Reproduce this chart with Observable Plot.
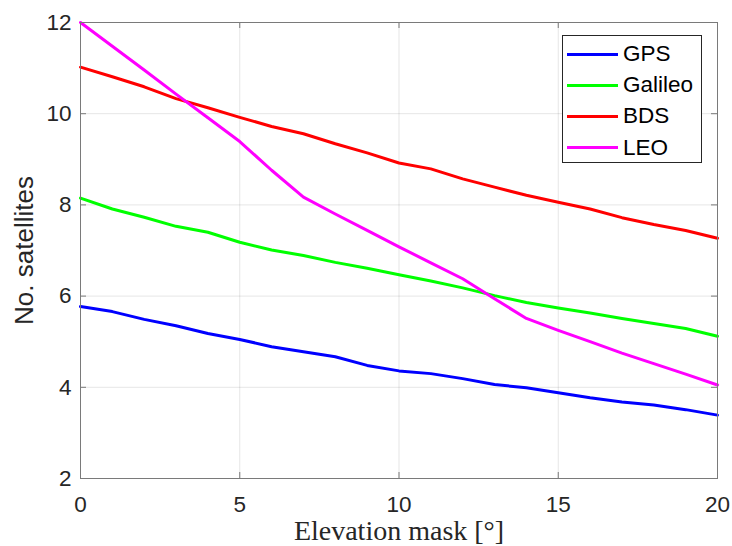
<!DOCTYPE html>
<html>
<head>
<meta charset="utf-8">
<script src="https://cdn.jsdelivr.net/npm/d3@7"></script>
<script src="https://cdn.jsdelivr.net/npm/@observablehq/plot@0.6"></script>
<style>
  html, body { margin: 0; padding: 0; background: #fff; }
  #wrap { position: relative; width: 732px; height: 546px; }
  #legend { position: absolute; left: 562px; top: 35px; width: 140px; height: 128px;
            border: 1px solid #262626; background: #fff; box-sizing: border-box; }
  .row { position: absolute; left: 4px; height: 30px; display: flex; align-items: center;
         font-family: "Liberation Sans", Arial, sans-serif; font-size: 22.5px; color: #000; }
  .sw { width: 51px; height: 3px; margin-right: 5px; }
</style>
</head>
<body>
<div id="wrap"><div id="legend"></div></div>
<script>
const elevation = [0,1,2,3,4,5,6,7,8,9,10,11,12,13,14,15,16,17,18,19,20];
const seriesNames = ["GPS", "Galileo", "BDS", "LEO"];
const seriesColors = ["#0000ff", "#00ff00", "#ff0000", "#ff00ff"];
const gps     = [5.77,5.66,5.49,5.35,5.18,5.05,4.89,4.78,4.67,4.48,4.36,4.30,4.19,4.06,3.99,3.88,3.77,3.68,3.61,3.51,3.39];
const galileo = [8.15,7.91,7.73,7.53,7.40,7.18,7.01,6.89,6.74,6.61,6.47,6.33,6.18,6.01,5.86,5.74,5.63,5.51,5.40,5.29,5.12];
const bds     = [11.02,10.81,10.59,10.33,10.13,9.92,9.72,9.56,9.34,9.14,8.92,8.79,8.57,8.39,8.21,8.06,7.91,7.72,7.57,7.44,7.27];
const leo     = [12.0,11.48,10.96,10.43,9.91,9.39,8.76,8.17,7.80,7.44,7.08,6.73,6.38,5.94,5.51,5.25,5.00,4.75,4.52,4.29,4.05];
const xTicks = [0,5,10,15,20];
const yTicks = [2,4,6,8,10,12];
const xLabel = "Elevation mask [°]";
const yLabel = "No. satellites";

const seriesValues = [gps, galileo, bds, leo];
const rows = [];
seriesNames.forEach((name, i) => {
  elevation.forEach((e, j) => rows.push({series: name, x: e, y: seriesValues[i][j]}));
});

const axisColor = "#7a7a7a";
const chart = Plot.plot({
  width: 732,
  height: 546,
  marginLeft: 80,
  marginRight: 15,
  marginTop: 22,
  marginBottom: 68,
  style: {fontFamily: "'Liberation Sans', Arial, sans-serif", background: "#fff"},
  x: {domain: [0, 20]},
  y: {domain: [2, 12]},
  color: {domain: seriesNames, range: seriesColors},
  marks: [
    Plot.gridX(xTicks, {stroke: "#000", strokeOpacity: 0.1, strokeWidth: 1}),
    Plot.gridY(yTicks, {stroke: "#000", strokeOpacity: 0.1, strokeWidth: 1}),
    Plot.axisX(xTicks, {tickSize: 0, tickPadding: 18, fontSize: 22.5, fill: "#262626", label: null}),
    Plot.axisY(yTicks, {tickSize: 0, tickPadding: 9, fontSize: 22.5, fill: "#262626", label: null}),
    Plot.tickX(xTicks, {x: d => d, insetTop: 450, stroke: axisColor}),
    Plot.tickX(xTicks, {x: d => d, insetBottom: 450, stroke: axisColor}),
    Plot.tickY(yTicks, {y: d => d, insetRight: 631, stroke: axisColor}),
    Plot.tickY(yTicks, {y: d => d, insetLeft: 631, stroke: axisColor}),
    Plot.line(rows, {x: "x", y: "y", z: "series", stroke: "series", strokeWidth: 3}),
    Plot.frame({stroke: axisColor, strokeWidth: 1}),
    Plot.text([yLabel], {frameAnchor: "left", rotate: -90, dx: -56, text: d => d,
      fontSize: 26, fill: "#262626", lineAnchor: "middle", textAnchor: "middle"}),
    Plot.text([xLabel], {frameAnchor: "bottom", dy: 53, text: d => d, textAnchor: "middle",
      fontSize: 28, fill: "#262626", lineAnchor: "middle", fontFamily: "'Liberation Serif', 'Times New Roman', serif"})
  ]
});
const wrap = document.getElementById("wrap");
wrap.insertBefore(chart, wrap.firstChild);

const legend = document.getElementById("legend");
seriesNames.forEach((name, i) => {
  const r = document.createElement("div");
  r.className = "row";
  r.style.top = (3 + i * 31.2) + "px";
  const sw = document.createElement("div");
  sw.className = "sw";
  sw.style.background = seriesColors[i];
  const t = document.createElement("span");
  t.textContent = name;
  r.appendChild(sw); r.appendChild(t);
  legend.appendChild(r);
});
</script>
</body>
</html>
